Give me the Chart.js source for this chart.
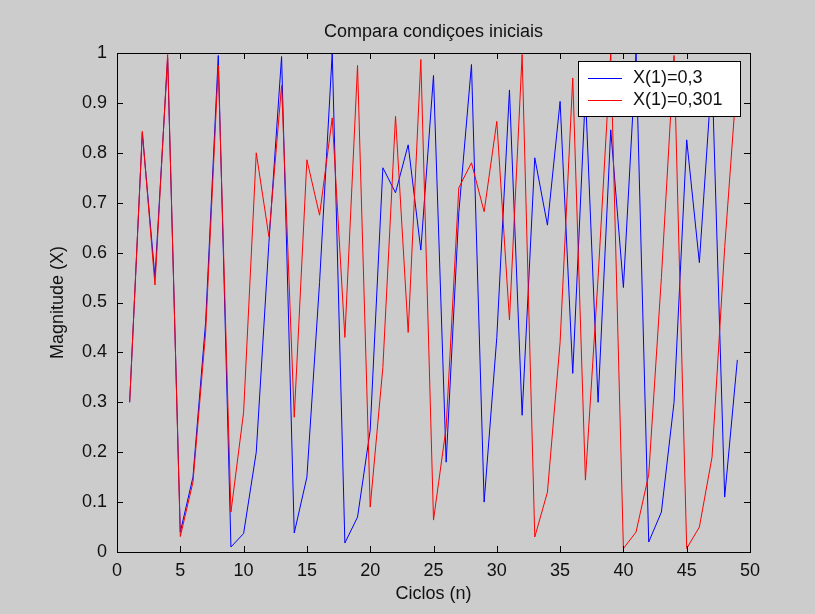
<!DOCTYPE html>
<html>
<head>
<meta charset="utf-8">
<script src="https://cdn.jsdelivr.net/npm/chart.js@4.4.1/dist/chart.umd.min.js"></script>
<style>
  body { margin: 0; background: #cccccc; }
  #wrap { width: 815px; height: 614px; }
</style>
</head>
<body>
<div id="wrap"><canvas id="chart" width="815" height="614"></canvas></div>
<script>
// ciclos (n)
var ciclos = [1, 2, 3, 4, 5, 6, 7, 8, 9, 10, 11, 12, 13, 14, 15, 16, 17, 18, 19, 20,
              21, 22, 23, 24, 25, 26, 27, 28, 29, 30, 31, 32, 33, 34, 35, 36, 37, 38, 39, 40,
              41, 42, 43, 44, 45, 46, 47, 48, 49];

// X(1)=0,3
var serieA = [0.30, 0.84, 0.55, 0.99, 0.04, 0.15, 0.46, 0.995, 0.01, 0.037,
              0.20, 0.62, 0.993, 0.038, 0.15, 0.54, 1.0, 0.018, 0.07, 0.244,
              0.77, 0.72, 0.816, 0.605, 0.955, 0.18, 0.68, 0.977, 0.10, 0.43,
              0.926, 0.274, 0.79, 0.655, 0.903, 0.358, 0.92, 0.30, 0.846, 0.53,
              1.0, 0.02, 0.08, 0.30, 0.826, 0.58, 0.96, 0.11, 0.385];

// X(1)=0,301
var serieB = [0.30, 0.843, 0.535, 0.997, 0.031, 0.14, 0.44, 0.975, 0.08, 0.28,
              0.80, 0.632, 0.935, 0.27, 0.786, 0.675, 0.87, 0.43, 0.975, 0.09,
              0.37, 0.873, 0.44, 0.987, 0.064, 0.25, 0.73, 0.78, 0.682, 0.863,
              0.465, 0.997, 0.03, 0.12, 0.42, 0.95, 0.144, 0.55, 1.0, 0.007,
              0.04, 0.155, 0.55, 0.995, 0.007, 0.05, 0.19, 0.61, 0.96];

var xTicks = [0, 5, 10, 15, 20, 25, 30, 35, 40, 45, 50];
var yTicks = [0, 0.1, 0.2, 0.3, 0.4, 0.5, 0.6, 0.7, 0.8, 0.9, 1];

var titulo = 'Compara condiçoes iniciais';
var rotuloX = 'Ciclos (n)';
var rotuloY = 'Magnitude (X)';

var fonte = '"Liberation Sans", Arial, sans-serif';

function pares(ys) {
    return ys.map(function (v, i) { return { x: ciclos[i], y: v }; });
}

// moldura, ticks para dentro, titulo, rotulos e legenda estilo matlab
var matlabStyle = {
    id: 'matlabStyle',
    afterDraw: function (chart) {
        var ctx = chart.ctx;
        var a = chart.chartArea;
        var sx = chart.scales.x, sy = chart.scales.y;
        var tl = 6;

        ctx.save();
        ctx.strokeStyle = '#000';
        ctx.lineWidth = 1;
        ctx.beginPath();
        xTicks.forEach(function (t) {
            var px = Math.round(sx.getPixelForValue(t)) + 0.5;
            ctx.moveTo(px, a.bottom); ctx.lineTo(px, a.bottom - tl);
            ctx.moveTo(px, a.top); ctx.lineTo(px, a.top + tl);
        });
        yTicks.forEach(function (t) {
            var py = Math.round(sy.getPixelForValue(t)) + 0.5;
            ctx.moveTo(a.left, py); ctx.lineTo(a.left + tl, py);
            ctx.moveTo(a.right, py); ctx.lineTo(a.right - tl, py);
        });
        ctx.stroke();
        ctx.strokeRect(Math.round(a.left) + 0.5, Math.round(a.top) + 0.5,
                       Math.round(a.right - a.left), Math.round(a.bottom - a.top));

        // titulo e rotulos
        ctx.fillStyle = '#111';
        ctx.font = '18px ' + fonte;
        ctx.textAlign = 'center';
        ctx.textBaseline = 'middle';
        ctx.fillText(titulo, (a.left + a.right) / 2, 32);
        ctx.fillText(rotuloX, (a.left + a.right) / 2, 594);
        ctx.save();
        ctx.translate(58, (a.top + a.bottom) / 2);
        ctx.rotate(-Math.PI / 2);
        ctx.fillText(rotuloY, 0, 0);
        ctx.restore();

        // legenda
        var lx = 578, ly = 61, lw = 162, lh = 55;
        ctx.fillStyle = '#fff';
        ctx.fillRect(lx, ly, lw, lh);
        ctx.strokeStyle = '#000';
        ctx.strokeRect(lx + 0.5, ly + 0.5, lw, lh);
        chart.data.datasets.forEach(function (ds, i) {
            var yy = ly + 17 + i * 22;
            ctx.strokeStyle = ds.borderColor;
            ctx.beginPath();
            ctx.moveTo(lx + 10, yy + 0.5);
            ctx.lineTo(lx + 44, yy + 0.5);
            ctx.stroke();
            ctx.fillStyle = '#111';
            ctx.textAlign = 'left';
            ctx.fillText(ds.label, lx + 55, yy);
        });
        ctx.restore();
    }
};

new Chart(document.getElementById('chart').getContext('2d'), {
    type: 'line',
    data: {
        datasets: [
            { label: 'X(1)=0,3', data: pares(serieA), borderColor: '#0000ff', borderWidth: 1,
              pointRadius: 0, fill: false, tension: 0, order: 1 },
            { label: 'X(1)=0,301', data: pares(serieB), borderColor: '#ff0000', borderWidth: 1,
              pointRadius: 0, fill: false, tension: 0, order: 0 }
        ]
    },
    options: {
        responsive: false,
        animation: false,
        events: [],
        layout: { padding: { left: 0, top: 53, right: 65, bottom: 0 } },
        plugins: {
            legend: { display: false },
            tooltip: { enabled: false },
            title: { display: false }
        },
        scales: {
            x: {
                type: 'linear', min: 0, max: 50,
                afterFit: function (s) { s.height = 62; },
                afterBuildTicks: function (s) { s.ticks = xTicks.map(function (v) { return { value: v }; }); },
                grid: { display: false, drawTicks: false },
                border: { display: false },
                ticks: { color: '#111', font: { family: fonte, size: 18 }, padding: 8, maxRotation: 0, autoSkip: false }
            },
            y: {
                type: 'linear', min: 0, max: 1,
                afterFit: function (s) { s.width = 117; },
                afterBuildTicks: function (s) { s.ticks = yTicks.map(function (v) { return { value: v }; }); },
                grid: { display: false, drawTicks: false },
                border: { display: false },
                ticks: { color: '#111', font: { family: fonte, size: 18 }, padding: 10, autoSkip: false,
                         callback: function (v) { return String(v); } }
            }
        }
    },
    plugins: [matlabStyle]
});
</script>
</body>
</html>
